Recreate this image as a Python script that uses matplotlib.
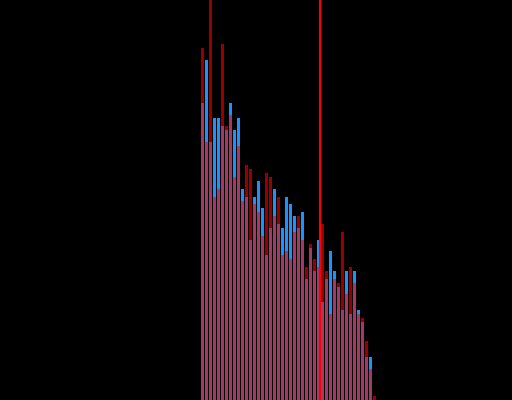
import matplotlib
matplotlib.use("Agg")
import matplotlib.pyplot as plt
import numpy as np

# counts per bin (two overlaid histograms)
red_counts = [90, 66, 110, 52, 54, 91, 70, 73, 57, 65, 51, 60, 59, 50, 48, 42, 58, 57, 47, 52,
              37, 38, 36, 43, 47, 41, 34, 40, 36, 34, 45, 33, 22, 31, 30, 43, 27, 34, 30, 22,
              21, 15, 8, 1]
blue_counts = [76, 87, 66, 72, 72, 70, 69, 76, 69, 72, 54, 52, 41, 52, 56, 49, 37, 44, 54, 45,
               44, 52, 50, 47, 44, 48, 31, 39, 33, 41, 25, 31, 38, 33, 29, 23, 33, 22, 33, 23,
               20, 11, 11, 0]
marker_x = 29.75

fig = plt.figure(figsize=(5.12, 4.0), dpi=100, facecolor="black")
ax = fig.add_axes([0, 0, 1, 1])
ax.set_facecolor("black")

x = np.arange(len(red_counts))
ax.bar(x, blue_counts, width=0.75, align="edge", color="#1e90ff", linewidth=0)
ax.bar(x, red_counts, width=0.75, align="edge", color="#ff0000", alpha=0.6, linewidth=0)
ax.axvline(marker_x, color="#ff0000", linewidth=1.5)

ax.set_xlim(-50.25, 77.75)
ax.set_ylim(0, 102.3)
ax.axis("off")

fig.savefig("out.png", dpi=100, facecolor="black")
